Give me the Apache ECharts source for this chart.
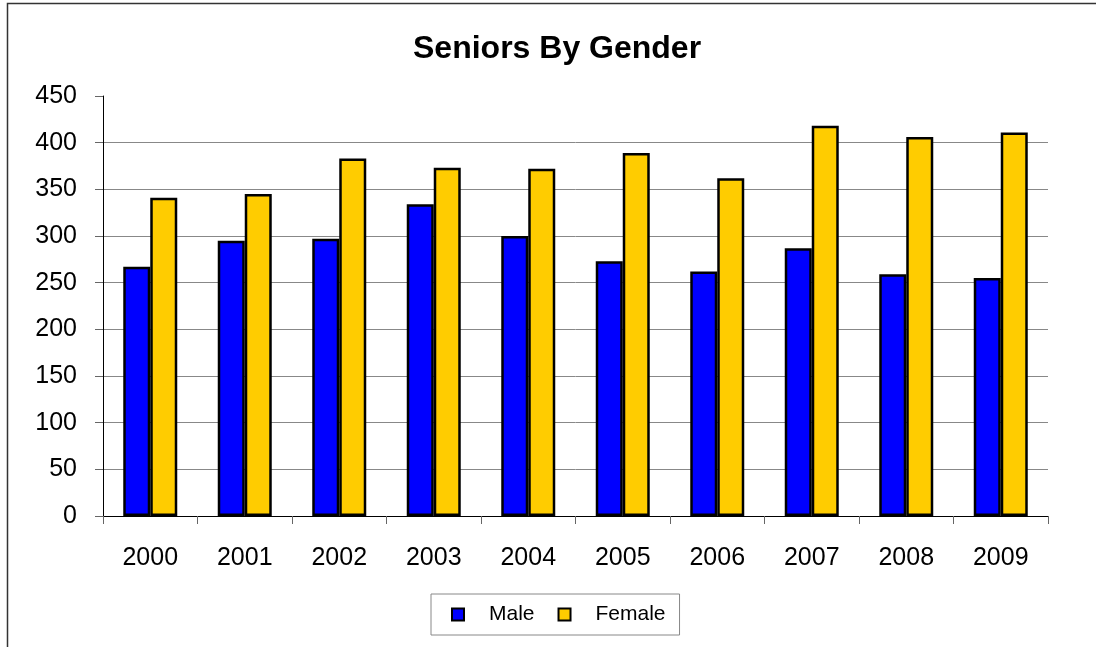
<!DOCTYPE html>
<html>
<head>
<meta charset="utf-8">
<script src="https://cdn.jsdelivr.net/npm/echarts@6/dist/echarts.min.js"></script>
<style>
html,body{margin:0;padding:0;background:#fff;}
#chart{width:1096px;height:647px;}
</style>
</head>
<body>
<div id="chart"></div>
<script>
const categories = ['2000','2001','2002','2003','2004','2005','2006','2007','2008','2009'];
const maleValues = [267, 295, 297, 334, 300, 273, 262, 287, 259, 255];
const femaleValues = [341, 345, 383, 373, 372, 389, 362, 418, 406, 411];
const yTicks = {min: 0, max: 450, interval: 50};

const FONT = "'Liberation Sans', Arial, sans-serif";
const chart = echarts.init(document.getElementById('chart'), null, {renderer: 'canvas'});
chart.setOption({
  animation: false,
  backgroundColor: '#ffffff',
  textStyle: {fontFamily: FONT},
  graphic: [{
    type: 'rect',
    shape: {x: 7.5, y: 3.5, width: 1200, height: 800},
    style: {fill: 'none', stroke: '#333', lineWidth: 1.5},
    silent: true, z: -10
  }],
  title: {
    text: 'Seniors By Gender',
    left: 413, top: 33,
    padding: 0,
    textStyle: {fontFamily: FONT, fontWeight: 'bold', fontSize: 32, color: '#000'}
  },
  legend: {
    data: ['Male', 'Female'],
    left: 431, top: 594,
    orient: 'horizontal',
    padding: [10, 14, 10, 20],
    itemGap: 23,
    itemWidth: 12, itemHeight: 12,
    icon: 'rect',
    borderColor: '#888', borderWidth: 1,
    itemStyle: {borderColor: '#000', borderWidth: 2},
    textStyle: {fontFamily: FONT, fontSize: 21, color: '#000', padding: [0, 0, 0, 20]}
  },
  grid: {left: 103, right: 48, top: 96, bottom: 131, containLabel: false},
  xAxis: {
    type: 'category',
    data: categories,
    boundaryGap: true,
    axisLine: {show: true, lineStyle: {color: '#000', width: 1}},
    axisTick: {show: true, length: 8, alignWithLabel: false, lineStyle: {color: '#666'}},
    axisLabel: {fontFamily: FONT, fontSize: 25, color: '#000', margin: 30}
  },
  yAxis: {
    type: 'value',
    min: yTicks.min, max: yTicks.max, interval: yTicks.interval,
    axisLine: {show: true, lineStyle: {color: '#000', width: 1}},
    axisTick: {show: true, length: 8, lineStyle: {color: '#666'}},
    axisLabel: {fontFamily: FONT, fontSize: 25, color: '#000', margin: 26},
    splitLine: {show: true, showMaxLine: false, showMinLine: false, lineStyle: {color: '#888', width: 1}}
  },
  series: [
    {
      name: 'Male', type: 'bar', data: maleValues,
      barWidth: 27, barGap: '0%',
      itemStyle: {color: '#0000FF', borderColor: '#000', borderWidth: 2.5}
    },
    {
      name: 'Female', type: 'bar', data: femaleValues,
      barWidth: 27, barGap: '0%',
      itemStyle: {color: '#FFCC00', borderColor: '#000', borderWidth: 2.5}
    }
  ]
});
</script>
</body>
</html>
